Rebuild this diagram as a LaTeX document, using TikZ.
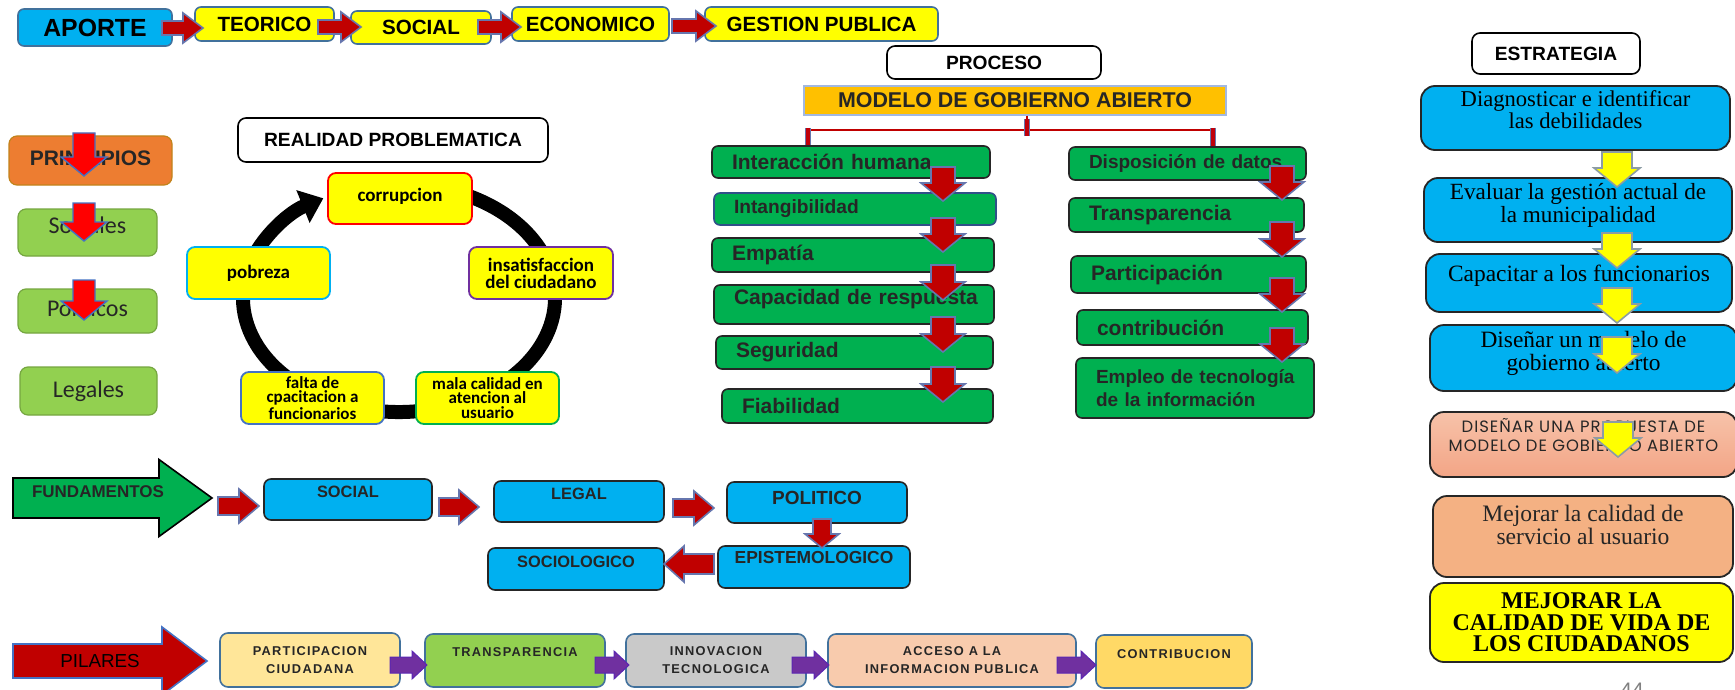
\documentclass[tikz,border=0pt]{standalone}
\usepackage{fontspec}
\usetikzlibrary{arrows.meta}
\newfontfamily\arf{Liberation Sans}
\newfontfamily\arsp[LetterSpace=10]{Liberation Sans}
\newfontfamily\calf{Carlito}
\newfontfamily\tnrf{Liberation Serif}
\newfontfamily\popf[LetterSpace=6]{Poppins}
\newcommand\fs[2]{\fontsize{#1}{#2}\selectfont}
\newcommand\up[2]{\raisebox{#1}[\height][\depth]{#2}}
\newcommand\upt[2]{\raisebox{#1}[\height][\depth]{\begin{tabular}{@{}c@{}}#2\end{tabular}}}
\newcommand\ind{\hspace*{10pt}}
\definecolor{cyanb}{HTML}{00B0F0}
\definecolor{yel}{HTML}{FFFF00}
\definecolor{bgrey}{HTML}{41719C}
\definecolor{gdark}{HTML}{00B050}
\definecolor{glight}{HTML}{92D050}
\definecolor{orng}{HTML}{ED7D31}
\definecolor{goldc}{HTML}{FFC000}
\definecolor{dred}{HTML}{C00000}
\definecolor{aoutl}{HTML}{6676AE}
\definecolor{brd}{HTML}{262626}
\definecolor{purp}{HTML}{7030A0}
\definecolor{pyel}{HTML}{FFE699}
\definecolor{pgrey}{HTML}{C9C9C9}
\definecolor{ppeach}{HTML}{F8CBAD}
\definecolor{pgold}{HTML}{FFD966}
\definecolor{tanc}{HTML}{F4B183}
\definecolor{salt}{HTML}{F7C2A9}
\definecolor{salb}{HTML}{F3A586}
\definecolor{blue2}{HTML}{4472C4}
\definecolor{youtl}{HTML}{8C9CA4}
\newcommand\bxc[7][]{\pgfmathsetmacro\mybw{(#4-#2)*0.5}\pgfmathsetmacro\mybh{(#5-#3)*0.5}%
  \node[#1,minimum width=\mybw pt,minimum height=\mybh pt] (#6) at ({(#2+#4)/2},{(#3+#5)/2}) {#7};}
\newcommand\bxl[7][]{\pgfmathsetmacro\mybw{(#4-#2)*0.5}\pgfmathsetmacro\mybh{(#5-#3)*0.5}%
  \node[#1,minimum width=\mybw pt,minimum height=\mybh pt,inner xsep=0pt,text width=\mybw pt,align=left] (#6) at ({(#2+#4)/2},{(#3+#5)/2}) {\ind #7};}
% horizontal block arrow: [style]{x tail}{x tip}{y centre}{shaft half}{head half}{head length}
\newcommand\harr[7][]{\pgfmathsetmacro\myhb{#3-sign(#3-#2)*#7}%
  \draw[#1] (#2,#4-#5) -- (\myhb,#4-#5) -- (\myhb,#4-#6) -- (#3,#4) -- (\myhb,#4+#6) -- (\myhb,#4+#5) -- (#2,#4+#5) -- cycle;}
% vertical block arrow: [style]{x centre}{y tail}{y tip}{shaft half}{head half}{head length}
\newcommand\varr[7][]{\pgfmathsetmacro\myvb{#4-sign(#4-#3)*#7}%
  \draw[#1] (#2-#5,#3) -- (#2-#5,\myvb) -- (#2-#6,\myvb) -- (#2,#4) -- (#2+#6,\myvb) -- (#2+#5,\myvb) -- (#2+#5,#3) -- cycle;}
\tikzset{
  every node/.style={inner sep=0pt,text=black,align=center},
  topbox/.style={draw=bgrey,line width=0.8pt,rounded corners=3pt,fill=yel,font=\arf\bfseries\fs{10.3pt}{12pt}},
  wbox/.style={draw=black,line width=0.8pt,rounded corners=4pt,fill=white,font=\arf\bfseries\fs{9.6pt}{11pt}},
  pribox/.style={draw=glight!80!black,line width=0.6pt,rounded corners=4pt,fill=glight,font=\calf\fs{12pt}{14pt},text=brd},
  cybox/.style={line width=0.9pt,rounded corners=4pt,fill=yel,font=\calf\bfseries\fs{9.5pt}{8.5pt}},
  cysmall/.style={cybox,font=\calf\bfseries\fs{8.5pt}{7.3pt}},
  gbox/.style={fill=gdark,draw=brd,line width=0.8pt,rounded corners=3pt,font=\arf\bfseries\fs{10.5pt}{11.5pt},text=brd},
  sbox/.style={draw=brd,line width=0.9pt,rounded corners=7pt},
  fbox/.style={fill=cyanb,draw=brd,line width=0.8pt,rounded corners=3.5pt,font=\arf\bfseries\fs{8.2pt}{10pt},text=brd},
  pbox/.style={draw=bgrey,line width=0.8pt,rounded corners=4pt,font=\arsp\bfseries\fs{6.4pt}{9pt},text=brd},
  rarr/.style={fill=dred,draw=aoutl,line width=0.8pt},
  parr/.style={fill=red,draw=blue2,line width=0.7pt},
  yarr/.style={fill=yel,draw=youtl,line width=0.8pt},
  vioarr/.style={fill=purp,draw=purp!80!blue,line width=0.5pt},
  ring/.style={line width=7pt,black,-{Triangle[width=17pt,length=11pt]}},
  redline/.style={dred,line width=1.2pt},
  tick/.style={line width=3pt,draw=aoutl},
  tickin/.style={line width=2pt,draw=dred!85!purple}
}
\begin{document}
\begin{tikzpicture}[x=0.5pt,y=-0.5pt]
\useasboundingbox (0,0) rectangle (1735,690);
\clip (0,0) rectangle (1735,690);
\fill[white] (0,0) rectangle (1735,690);

% ---------- top row ----------
\bxc[topbox,fill=cyanb,draw=bgrey,font=\arf\bfseries\fs{12.4pt}{14pt}]{18}{9}{172}{46}{aporte}{APORTE}
\bxc[topbox]{195}{7}{334}{41}{teor}{TEORICO}
\bxc[topbox]{351}{11}{491}{44}{socT}{SOCIAL}
\bxc[topbox]{512}{7}{669}{41}{econ}{ECONOMICO}
\bxc[topbox]{705}{7}{938}{41}{gest}{GESTION PUBLICA}
\harr[rarr]{162}{203}{28}{7}{15}{20}
\harr[rarr]{318}{361}{27}{7}{15}{20}
\harr[rarr]{478}{521}{27}{7}{15}{20}
\harr[rarr]{672}{716}{26}{7}{15}{20}

% ---------- principios ----------
\bxc[pribox,fill=orng,draw=orng!70!yellow!80!black,font=\arf\bfseries\fs{10.5pt}{12pt},text=brd]{9}{136}{172}{185}{prin}{\up{1pt}{PRINCIPIOS}}
\bxc[pribox]{18}{209}{157}{256}{soci}{\up{3.5pt}{Sociales}}
\bxc[pribox]{18}{289}{157}{333}{poli}{\up{1.5pt}{Politicos}}
\bxc[pribox]{20}{367}{157}{415}{lega}{Legales}
\varr[parr]{84}{133}{176}{11}{23}{19}
\varr[parr]{84}{203}{241}{11}{23}{19}
\varr[parr]{84}{280}{320}{11}{23}{19}

% ---------- realidad problematica ----------
\bxc[wbox]{238}{118}{548}{162}{real}{REALIDAD PROBLEMATICA}
\draw[ring] ([shift={(-70:156 and 114)}]399,298) arc[start angle=-70,end angle=241,x radius=156,y radius=114];
\bxc[cybox,draw=red]{328}{173}{472}{224}{corr}{\up{1pt}{corrupcion}}
\bxc[cybox,draw=purp]{469}{247}{613}{299}{insa}{insatisfaccion\\del ciudadano}
\bxc[cybox,draw=cyanb]{187}{247}{330}{299}{pobr}{pobreza}
\bxc[cysmall,draw=blue2]{241}{372}{384}{424}{falt}{falta de\\cpacitacion a\\funcionarios}
\bxc[cysmall,draw=gdark]{416}{372}{559}{424}{mala}{mala calidad en\\atencion al\\usuario}

% ---------- proceso ----------
\bxc[wbox]{887}{46}{1101}{79}{proc}{PROCESO}
\bxc[fill=goldc,draw=blue2!50,line width=0.6pt,font=\arf\bfseries\fs{10.7pt}{12pt},text=brd]{804}{86}{1226}{115}{mod}{MODELO DE GOBIERNO ABIERTO}
\bxl[gbox]{712}{146}{990}{178}{ih}{Interacción humana}
\bxl[gbox,draw=blue2!70!black,font=\arf\bfseries\fs{9.6pt}{11pt}]{714}{193}{996}{225}{intg}{Intangibilidad}
\bxl[gbox]{712}{238}{994}{272}{emp}{Empatía}
\bxl[gbox]{714}{285}{994}{324}{cap}{\up{2.5pt}{Capacidad de respuesta}}
\bxl[gbox]{716}{336}{993}{369}{seg}{Seguridad}
\bxl[gbox]{722}{389}{993}{423}{fia}{Fiabilidad}
\bxl[gbox,font=\arf\bfseries\fs{9.5pt}{11pt}]{1069}{147}{1306}{180}{dd}{Disposición de datos}
\bxl[gbox]{1069}{198}{1304}{232}{tr}{Transparencia}
\bxl[gbox]{1071}{256}{1306}{293}{pa}{Participación}
\bxl[gbox]{1077}{310}{1308}{345}{co}{contribución}
\bxl[gbox,font=\arf\bfseries\fs{9.5pt}{11.5pt}]{1076}{358}{1314}{418}{em}{Empleo de tecnología\\\ind de la información}
\coordinate (jl) at (808,130);
\coordinate (jr) at (1213,130);
\draw[redline] (ih.north -| jl) -- (jl) -- (jr) -- (dd.north -| jr);
\draw[redline] ([xshift=6pt]mod.south) -- ++(0,15);
\draw[tick] ([xshift=6pt,yshift=-1.5pt]mod.south) -- ++(0,17);
\draw[tickin] ([xshift=6pt,yshift=-1.5pt]mod.south) -- ++(0,17);
\draw[tick] ([yshift=1pt]jl) -- (ih.north -| jl);
\draw[tickin] ([yshift=1pt]jl) -- (ih.north -| jl);
\draw[tick] ([yshift=1pt]jr) -- (dd.north -| jr);
\draw[tickin] ([yshift=1pt]jr) -- (dd.north -| jr);
\varr[rarr]{943}{167}{201}{12}{22}{18}
\varr[rarr]{943}{218}{252}{12}{22}{18}
\varr[rarr]{943}{265}{300}{12}{22}{18}
\varr[rarr]{943}{317}{352}{12}{22}{18}
\varr[rarr]{943}{367}{402}{12}{22}{18}
\varr[rarr]{1282}{166}{200}{12}{22}{18}
\varr[rarr]{1282}{222}{257}{12}{22}{18}
\varr[rarr]{1282}{278}{312}{12}{22}{18}
\varr[rarr]{1282}{328}{362}{12}{22}{18}

% ---------- estrategia ----------
\bxc[wbox]{1472}{33}{1640}{74}{estr}{ESTRATEGIA}
\bxc[sbox,fill=cyanb,font=\tnrf\fs{11.3pt}{10.5pt}]{1421}{86}{1730}{150}{diag}{\upt{2.5pt}{Diagnosticar e identificar\\las debilidades}}
\bxc[sbox,fill=cyanb,font=\tnrf\fs{11.6pt}{10.5pt}]{1424}{178}{1732}{242}{eval}{\upt{2pt}{Evaluar la gestión actual de\\la municipalidad}}
\bxc[sbox,fill=cyanb,font=\tnrf\fs{11.7pt}{13pt}]{1426}{254}{1732}{312}{capa}{\up{3.5pt}{Capacitar a los funcionarios}}
\bxc[sbox,fill=cyanb,font=\tnrf\fs{11.7pt}{11.5pt}]{1430}{325}{1737}{391}{dise}{\upt{2pt}{Diseñar un modelo de\\gobierno abierto}}
\bxc[sbox,top color=salt,bottom color=salb,font=\popf\fs{8.2pt}{9.5pt},text=brd]{1430}{412}{1737}{477}{prop}{\upt{3.5pt}{DISEÑAR UNA PROPUESTA DE\\MODELO DE GOBIERNO ABIERTO}}
\bxc[sbox,fill=tanc,font=\tnrf\fs{11.8pt}{11.5pt},text=brd]{1433}{496}{1733}{577}{mej}{\upt{4pt}{Mejorar la calidad de\\servicio al usuario}}
\bxc[sbox,fill=yel,font=\tnrf\bfseries\fs{12pt}{10.7pt}]{1430}{583}{1733}{662}{vida}{MEJORAR LA\\CALIDAD DE VIDA DE\\LOS CIUDADANOS}
\varr[yarr]{1617}{152}{187}{15}{23}{19}
\varr[yarr]{1617}{233}{268}{15}{23}{19}
\varr[yarr]{1617}{288}{323}{15}{23}{19}
\varr[yarr]{1617}{337}{373}{15}{23}{19}
\varr[yarr]{1618}{422}{457}{15}{23}{19}
\node[font=\arf\fs{10.5pt}{12pt},text=gray,anchor=base west] (pg) at (1620,697) {44};

% ---------- fundamentos ----------
\harr[fill=gdark,draw=black,line width=0.8pt]{13}{212}{498}{20}{38.5}{53}
\node[font=\arf\bfseries\fs{8.5pt}{10pt},text=brd] (fund) at (98,492) {FUNDAMENTOS};
\bxc[fbox]{264}{479}{432}{520}{fsoc}{\up{4pt}{SOCIAL}}
\bxc[fbox]{494}{481}{664}{522}{fleg}{\up{4pt}{LEGAL}}
\bxc[fbox,font=\arf\bfseries\fs{9.5pt}{11pt}]{727}{482}{907}{523}{fpol}{\up{2.5pt}{POLITICO}}
\bxc[fbox,font=\arf\bfseries\fs{8.7pt}{10pt}]{718}{546}{910}{588}{fepi}{\up{4.5pt}{EPISTEMOLOGICO}}
\bxc[fbox]{488}{548}{664}{590}{fsoci}{\up{3.5pt}{SOCIOLOGICO}}
\harr[rarr]{218}{259}{506}{9}{17}{20}
\harr[rarr]{439}{479}{507}{9}{17}{20}
\harr[rarr]{673}{714}{508}{9}{17}{20}
\varr[rarr]{822}{519}{548}{9}{17}{14}
\harr[rarr]{714}{664}{564}{10}{18}{20}

% ---------- pilares ----------
\harr[fill=dred,draw=blue2,line width=0.8pt]{13}{207}{661}{17}{34}{45}
\node[font=\arf\fs{9.4pt}{11pt},text=black] (pil) at (100,661) {PILARES};
\bxc[pbox,fill=pyel]{220}{633}{400}{687}{ppar}{PARTICIPACION\\CIUDADANA}
\bxc[pbox,fill=glight]{425}{634}{605}{687}{ptra}{\up{4pt}{TRANSPARENCIA}}
\bxc[pbox,fill=pgrey]{626}{634}{806}{687}{pinn}{INNOVACION\\TECNOLOGICA}
\bxc[pbox,fill=ppeach]{828}{634}{1076}{687}{pacc}{ACCESO A LA\\INFORMACION PUBLICA}
\bxc[pbox,fill=pgold]{1096}{635}{1252}{688}{pcon}{\up{3.5pt}{CONTRIBUCION}}
\harr[vioarr]{390}{427}{665}{8}{14}{15}
\harr[vioarr]{595}{629}{665}{8}{14}{15}
\harr[vioarr]{792}{829}{665}{8}{14}{15}
\harr[vioarr]{1057}{1096}{665}{8}{14}{15}
\end{tikzpicture}
\end{document}
